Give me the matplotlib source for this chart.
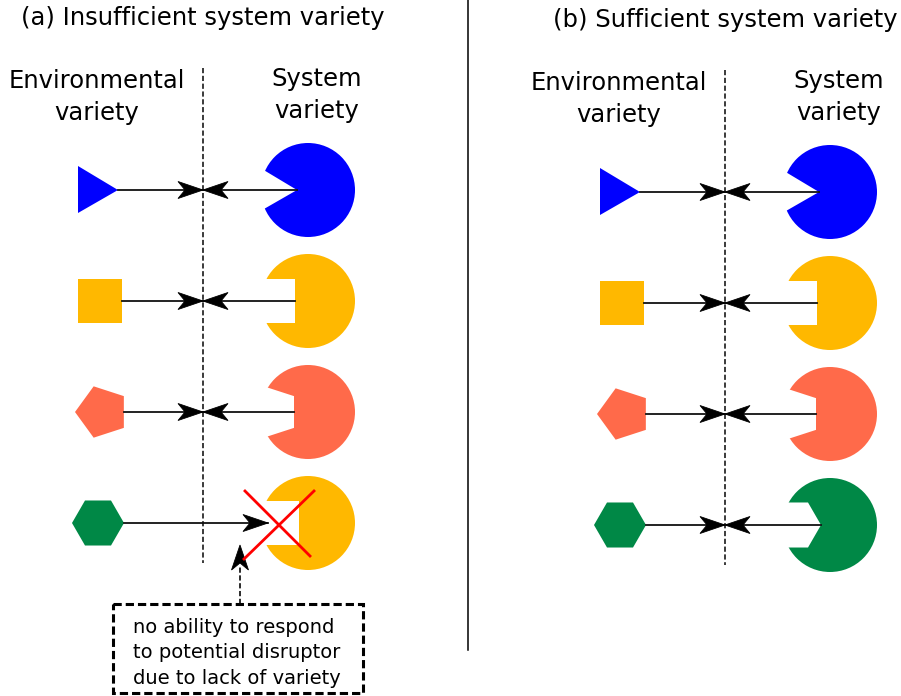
import numpy as np
import matplotlib
matplotlib.use('Agg')
import matplotlib.pyplot as plt
from matplotlib.patches import Polygon, Circle, Rectangle

# diagram content
titles = ['(a) Insufficient system variety', '(b) Sufficient system variety']
env_label = 'Environmental\nvariety'
sys_label = 'System\nvariety'
note = 'no ability to respond\nto potential disruptor\ndue to lack of variety'

env_shapes = ['triangle', 'square', 'pentagon', 'hexagon']
env_colors = ['#0000ff', '#ffb800', '#ff6a4a', '#008846']
sys_shapes_a = ['triangle', 'square', 'pentagon', 'square']
sys_colors_a = ['#0000ff', '#ffb800', '#ff6a4a', '#ffb800']
sys_shapes_b = ['triangle', 'square', 'pentagon', 'hexagon']
sys_colors_b = ['#0000ff', '#ffb800', '#ff6a4a', '#008846']
matched_a = [True, True, True, False]
matched_b = [True, True, True, True]

# layout (pixels)
W, H = 901, 696
panel_x = [0, 522]
panel_y = [0, 2]
rows_y = [190, 301, 412, 523]
env_x = [98, 99.5, 102, 98]
mid_x = 203
pac_x = 308
pac_r = 47
mouth_gap = [11, 13, 14, 9]   # mouth tip sits this far left of pac centre

LINE = '#111111'
DASH = (0, (3.0, 1.5))


def shape_pts(kind, cx, cy):
    if kind == 'triangle':
        p = [(-20, -24), (-20, 23), (20, 0)]
    elif kind == 'square':
        p = [(-22, -22), (22, -22), (22, 22), (-22, 22)]
    elif kind == 'pentagon':
        a = np.radians([180, 108, 36, -36, -108])
        p = list(zip(27 * np.cos(a), -27 * np.sin(a)))
    else:
        a = np.radians([180, 120, 60, 0, -60, -120])
        p = list(zip(26 * np.cos(a), -26 * np.sin(a)))
    return np.array(p) + [cx, cy]


def right_edge(kind):
    return {'triangle': 20, 'square': 22, 'pentagon': 27 * np.cos(np.radians(36)),
            'hexagon': 26}[kind]


def head(ax, x, y, direction, z=6):
    # stealth style arrow head, tip at (x, y)
    L, w, n = 25, 8.5, 18
    d = np.array(direction, float)
    pr = np.array([-d[1], d[0]])
    tip = np.array([x, y])
    pts = [tip, tip - L * d + w * pr, tip - n * d, tip - L * d - w * pr]
    ax.add_patch(Polygon(pts, closed=True, fc='black', ec='black', lw=0.6, zorder=z))


fig = plt.figure(figsize=(W / 100, H / 100), dpi=100)
ax = fig.add_axes([0, 0, 1, 1])
ax.set_xlim(0, W)
ax.set_ylim(H, 0)
ax.axis('off')

panels = [(sys_shapes_a, sys_colors_a, matched_a), (sys_shapes_b, sys_colors_b, matched_b)]
for k, (sshapes, scolors, matched) in enumerate(panels):
    ox, oy = panel_x[k], panel_y[k]
    ax.text(mid_x + ox, 18 + oy, titles[k], ha='center', va='center', fontsize=17.5)
    ax.text(97 + ox, 97 + oy, env_label, ha='center', va='center',
            fontsize=17.5, linespacing=1.4)
    ax.text(317 + ox, 95 + oy, sys_label, ha='center', va='center',
            fontsize=17.5, linespacing=1.4)
    ax.plot([mid_x + ox] * 2, [68 + oy, 563 + oy], color='#222222', lw=1.25,
            ls=DASH, zorder=3)

    for i, y0 in enumerate(rows_y):
        y = y0 + oy
        ex = env_x[i] + ox
        ax.add_patch(Polygon(shape_pts(env_shapes[i], ex, y), closed=True,
                             fc=env_colors[i], ec='none', zorder=2))
        px = pac_x + ox
        ax.add_patch(Circle((px, y), pac_r, fc=scolors[i], ec='none', zorder=2))
        tip = px - mouth_gap[i]
        mc = tip - right_edge(sshapes[i])
        ax.add_patch(Polygon(shape_pts(sshapes[i], mc, y), closed=True,
                             fc='white', ec='none', zorder=2.5))
        start = ex + right_edge(env_shapes[i])
        if matched[i]:
            ax.plot([start, mid_x + ox], [y, y], color=LINE, lw=1.3, zorder=4)
            head(ax, mid_x + ox, y, (1, 0))
            ax.plot([tip, mid_x + ox], [y, y], color=LINE, lw=1.3, zorder=4)
            head(ax, mid_x + ox, y, (-1, 0))
        else:
            ax.plot([start, 268 + ox], [y, y], color=LINE, lw=1.3, zorder=4)
            head(ax, 268 + ox, y, (1, 0))
            # red cross: no response
            ax.plot([245 + ox, 310 + ox], [491 + oy, 556 + oy], color='#ff0000', lw=2, zorder=7)
            ax.plot([314 + ox, 244 + ox], [491 + oy, 559 + oy], color='#ff0000', lw=2, zorder=7)

# note box and pointer
ax.add_patch(Rectangle((113, 604), 250, 89, fc='white', ec='black', lw=2.2,
                       ls=(0, (2.7, 1.3)), zorder=5))
ax.text(133, 653, note, ha='left', va='center', fontsize=14, linespacing=1.45, zorder=6)
ax.plot([240, 240], [604, 565], color=LINE, lw=1.25, ls=DASH, zorder=4)
head(ax, 240, 545, (0, -1))

# separator between panels
ax.plot([468, 468], [0, 650], color='black', lw=1.1)

fig.savefig('out.png', dpi=100)
